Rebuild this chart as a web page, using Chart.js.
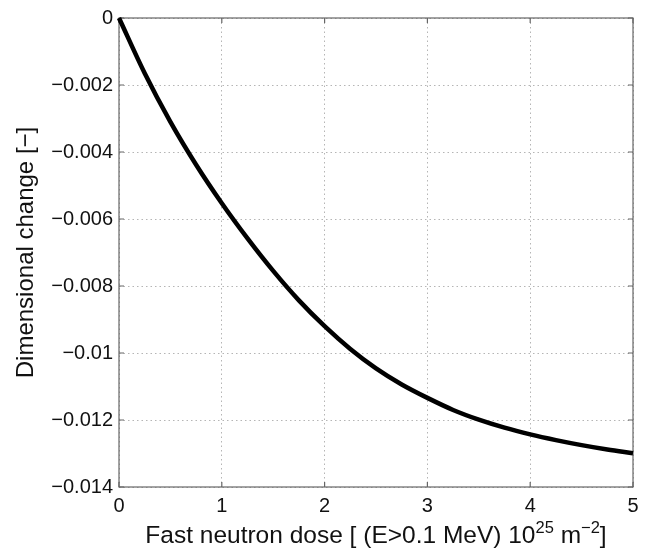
<!DOCTYPE html>
<html>
<head>
<meta charset="utf-8">
<script src="https://cdn.jsdelivr.net/npm/chart.js@4/dist/chart.umd.min.js"></script>
<style>
  html, body { margin: 0; padding: 0; background: #fff; }
  #wrap { width: 649px; height: 553px; }
</style>
</head>
<body>
<div id="wrap"><canvas id="c" width="649" height="553"></canvas></div>
<script>
// ---- data ----
const doseValues = [0, 0.25, 0.5, 0.75, 1.0, 1.25, 1.5, 1.75, 2.0, 2.25, 2.5, 2.75, 3.0, 3.25, 3.5, 3.75, 4.0, 4.25, 4.5, 4.75, 5.0];
const changeValues = [0, -0.00165, -0.00310, -0.00438, -0.00553, -0.00658, -0.00755, -0.00843, -0.00920, -0.00988, -0.01046, -0.01094, -0.01134, -0.01170, -0.01199, -0.01223, -0.01243, -0.01260, -0.01275, -0.01288, -0.01299];
const xTickValues = [0, 1, 2, 3, 4, 5];
const yTickValues = [0, -0.002, -0.004, -0.006, -0.008, -0.01, -0.012, -0.014];
const xTitleParts = [
  { text: 'Fast neutron dose [ (E>0.1 MeV) 10', sup: false },
  { text: '25', sup: true },
  { text: ' m', sup: false },
  { text: '\u22122', sup: true },
  { text: ']', sup: false }
];
const yTitle = 'Dimensional change [\u2212]';

const FONT = "'Liberation Sans', Arial, Helvetica, sans-serif";

function fmt(v) {
  if (v === 0) return '0';
  const s = String(Math.abs(Number(v.toPrecision(6))));
  return (v < 0 ? '\u2212' : '') + s;
}

const framePlugin = {
  id: 'frame',
  beforeDatasetsDraw(chart) {
    const { ctx, chartArea: a, scales } = chart;
    const x = scales.x, y = scales.y;
    ctx.save();
    ctx.strokeStyle = '#666';
    ctx.lineWidth = 1.2;
    ctx.strokeRect(a.left, a.top, a.right - a.left, a.bottom - a.top);
    ctx.beginPath();
    const L = 5;
    xTickValues.forEach(v => {
      const px = x.getPixelForValue(v);
      ctx.moveTo(px, a.bottom); ctx.lineTo(px, a.bottom - L);
      ctx.moveTo(px, a.top); ctx.lineTo(px, a.top + L);
    });
    yTickValues.forEach(v => {
      const py = y.getPixelForValue(v);
      ctx.moveTo(a.left, py); ctx.lineTo(a.left + L, py);
      ctx.moveTo(a.right, py); ctx.lineTo(a.right - L, py);
    });
    ctx.stroke();
    ctx.restore();
  },
  afterDraw(chart) {
    const { ctx, chartArea: a } = chart;
    ctx.save();
    ctx.fillStyle = '#111';
    // x title with superscripts
    const base = 24.5, sup = 16.5;
    let total = 0;
    xTitleParts.forEach(p => {
      ctx.font = (p.sup ? sup : base) + 'px ' + FONT;
      total += ctx.measureText(p.text).width;
    });
    let cx = (a.left + a.right) / 2 - total / 2;
    const baseY = 543;
    ctx.textBaseline = 'alphabetic';
    ctx.textAlign = 'left';
    xTitleParts.forEach(p => {
      ctx.font = (p.sup ? sup : base) + 'px ' + FONT;
      ctx.fillText(p.text, cx, p.sup ? baseY - 10 : baseY);
      cx += ctx.measureText(p.text).width;
    });
    // y title
    ctx.translate(26, (a.top + a.bottom) / 2);
    ctx.rotate(-Math.PI / 2);
    ctx.font = '24px ' + FONT;
    ctx.textAlign = 'center';
    ctx.textBaseline = 'middle';
    ctx.fillText(yTitle, 0, 0);
    ctx.restore();
  }
};

new Chart(document.getElementById('c'), {
  type: 'line',
  data: {
    datasets: [{
      data: doseValues.map((d, i) => ({ x: d, y: changeValues[i] })),
      borderColor: '#000',
      borderWidth: 4.5,
      pointRadius: 0,
      fill: false,
      cubicInterpolationMode: 'monotone',
      clip: 3
    }]
  },
  options: {
    responsive: false,
    animation: false,
    events: [],
    layout: { padding: { top: 13, right: 16, left: 0, bottom: 0 } },
    plugins: { legend: { display: false }, tooltip: { enabled: false } },
    scales: {
      x: {
        type: 'linear',
        min: 0, max: 5,
        afterBuildTicks(scale) { scale.ticks = xTickValues.map(v => ({ value: v })); },
        afterFit(scale) { scale.height = 66; },
        ticks: {
          color: '#111',
          font: { family: FONT, size: 20 },
          padding: 7,
          maxRotation: 0,
          callback: v => fmt(v)
        },
        grid: { color: '#b5b5b5', lineWidth: 1, drawTicks: false },
        border: { display: false, dash: [1.5, 3] }
      },
      y: {
        type: 'linear',
        min: -0.014, max: 0,
        afterBuildTicks(scale) { scale.ticks = yTickValues.map(v => ({ value: v })); },
        afterFit(scale) { scale.width = 119; },
        ticks: {
          color: '#111',
          font: { family: FONT, size: 20 },
          padding: 6,
          callback: v => fmt(v)
        },
        grid: { color: '#b5b5b5', lineWidth: 1, drawTicks: false },
        border: { display: false, dash: [1.5, 3] }
      }
    }
  },
  plugins: [framePlugin]
});
</script>
</body>
</html>
